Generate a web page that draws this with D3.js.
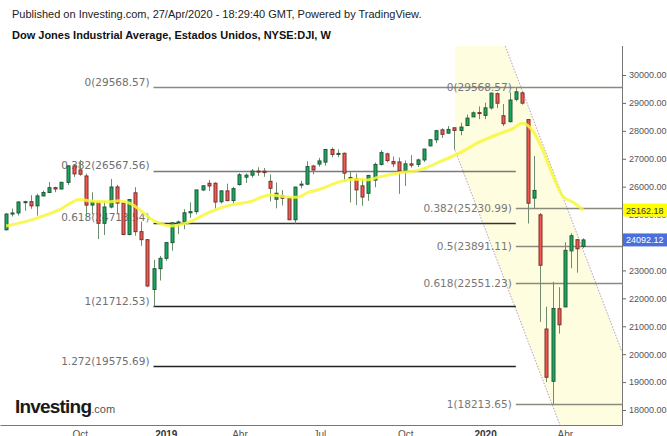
<!DOCTYPE html>
<html>
<head>
<meta charset="utf-8">
<script src="https://cdn.jsdelivr.net/npm/d3@7"></script>
<style>
  body { margin: 0; background: #fff; }
  svg { display: block; font-family: 'Liberation Sans', Arial, sans-serif; }
</style>
</head>
<body>
<div id="chart"></div>
<script>
/* global d3 */
const WIDTH = 667
const HEIGHT = 436

// weekly candles, index 0 = week of Jul 9 2018 ... index 94 = week of Apr 27 2020
const opens = [
  24456, 25019, 25058, 25451, 25463, 25313, 25669, 25790, 25965, 25917,
  26155, 26744, 26600, 26383, 25340, 25444, 24688, 25271, 25989, 25413,
  24286, 25779, 24389, 24100, 22317, 23062, 23433, 23996, 24706, 24737,
  25064, 25106, 25883, 26122, 26122, 25460, 25849, 25502, 26076, 26340,
  26412, 26559, 26555, 26190, 25550, 25680, 25586, 24815, 26060, 26090,
  26740, 26810, 26880, 27332, 27154, 27196, 26330, 26287, 26030, 25762,
  26235, 26797, 27175, 26903, 26886, 26573, 26817, 26798, 26958, 27462,
  27681, 28036, 27917, 28109, 28015, 28190, 28500, 28654, 28553, 28822,
  29330, 28540, 28330, 29130, 29360, 28403, 25591, 24992, 20900, 19028,
  21628, 21693, 23700, 24100, 23860
]
const highs = [
  25052, 25215, 25474, 25494, 25692, 25746, 25866, 26167, 26000, 26171,
  26770, 26769, 26951, 26468, 25800, 25456, 25481, 26277, 26066, 25413,
  25538, 25980, 24749, 24124, 23381, 23518, 24002, 24706, 24788, 25193,
  25439, 25883, 26052, 26241, 26155, 25872, 26109, 25995, 26486, 26471,
  26633, 26695, 26668, 26438, 26152, 25877, 25600, 26000, 26209, 26908,
  26782, 27032, 27333, 27398, 27331, 27221, 26547, 26466, 26282, 26423,
  26860, 27306, 27217, 27079, 27047, 26940, 27131, 27006, 27348, 27700,
  28036, 28090, 28175, 28120, 28290, 28582, 28701, 28872, 29009, 29373,
  29373, 28960, 29380, 29568.57, 29408, 28420, 27102, 25057, 21700, 22595,
  22400, 24008, 24330, 24119, 24150
]
const lows = [
  24432, 24930, 24966, 25139, 25206, 24965, 25650, 25790, 25803, 25899,
  26062, 26350, 26394, 24899, 25009, 24122, 24268, 25223, 25030, 24268,
  24260, 24243, 23881, 22397, 21712.53, 22638, 23346, 23706, 24302, 24477,
  24883, 25008, 25842, 25847, 25208, 25397, 25476, 25372, 26040, 26133,
  26323, 26378, 26353, 25471, 25222, 25328, 24800, 24680, 25941, 26055,
  26444, 26717, 26755, 27047, 27050, 26203, 25433, 25339, 25313, 25494,
  25978, 26754, 26872, 26698, 25743, 26026, 26685, 26703, 26883, 27446,
  27558, 27744, 27900, 27325, 27839, 28173, 28491, 28418, 28419, 28763,
  28811, 28169, 28300, 29056, 28939, 24681, 25226, 21154, 19000, 18213.65,
  20736, 21693, 23076, 22919, 23800
]
const closes = [
  25019, 25058, 25451, 25463, 25313, 25669, 25790, 25965, 25917, 26155,
  26744, 26458, 26447, 25340, 25444, 24688, 25271, 25989, 25413, 24286,
  25538, 24389, 24101, 22445, 23062, 23433, 23996, 24706, 24737, 25064,
  25106, 25883, 26031, 26026, 25450, 25849, 25502, 25929, 26425, 26412,
  26559, 26543, 26505, 25942, 25764, 25586, 24815, 25984, 26090, 26720,
  26600, 26922, 27332, 27154, 27192, 26485, 26287, 25886, 25629, 26403,
  26797, 27220, 26935, 26820, 26573, 26817, 26770, 26958, 27347, 27681,
  28005, 27876, 28051, 28015, 28135, 28455, 28645, 28634, 28823, 29348,
  28990, 28256, 29103, 29398, 28992, 25409, 25865, 23186, 19174, 21637,
  21053, 23719, 24242, 23775, 24092.12
]

// yellow moving average (week index, value)
const maWeeks = [0, 4.4, 8.8, 12, 13.7, 16.7, 18.3, 20.2, 21.8, 23.4, 25, 26.7, 30, 33.2, 36.5, 39.7, 43, 45.2, 47.3, 49.5,
  51, 54.4, 56.6, 58.7, 60.9, 64.2, 67.4, 70.7, 73.8, 77.2, 80.5, 82.6, 84, 85.8, 87.5, 89.1, 90.7, 92.4, 94]
const maValues = [24590, 24830, 25190, 25540, 25490, 25460, 25500, 25400, 25165, 24870, 24690, 24590, 24745, 25100, 25340, 25460, 25700, 25650, 25620, 25820,
  25900, 26180, 26265, 26240, 26360, 26500, 26600, 26900, 27200, 27610, 27910, 28090, 28270, 27990, 27255, 26360, 25644, 25430, 25162.18]

// fibonacci retracements
const fibLeftRatios = ['0', '0.382', '0.618', '1', '1.272']
const fibLeftValues = [29568.57, 26567.56, 24713.54, 21712.53, 19575.69]
const fibLeftWeeks = [24, 83]
const fibRightRatios = ['0', '0.382', '0.5', '0.618', '1']
const fibRightValues = [29568.57, 25230.99, 23891.11, 22551.23, 18213.65]
const fibRightStart = 83

// parallel channel (week index, price)
const channelStart = [73.1, 27314]
const channelEnd = [89.7, 17751]
const channelUpper = [83.4, 29821]

const priceTicks = [18000, 19000, 20000, 21000, 22000, 23000, 24000, 25000, 26000, 27000, 28000, 29000, 30000]
const monthWeeks = [12, 26, 38, 51, 65, 78, 91]
const monthLabels = ['Oct', '2019', 'Abr', 'Jul', 'Oct', '2020', 'Abr']

const maLast = 25162.18
const priceLast = 24092.12

const PLOT = { left: 0, right: 622, top: 46, bottom: 425 }

const svg = d3.select('#chart')
  .append('svg')
  .attr('width', WIDTH)
  .attr('height', HEIGHT)

const x = d3.scaleLinear().domain([-1, 100.3]).range([PLOT.left, PLOT.right])
const y = d3.scaleLinear().domain([18000, 30000]).range([410, 75])

svg.append('clipPath').attr('id', 'plot-clip')
  .append('rect')
  .attr('x', PLOT.left).attr('y', PLOT.top)
  .attr('width', PLOT.right - PLOT.left).attr('height', PLOT.bottom - PLOT.top)

const plot = svg.append('g').attr('clip-path', 'url(#plot-clip)')

// channel
const chSlope = (channelEnd[1] - channelStart[1]) / (channelEnd[0] - channelStart[0])
const lowerAt = (i) => channelStart[1] + chSlope * (i - channelStart[0])
const chOffset = channelUpper[1] - lowerAt(channelUpper[0])
const xEnd = x.domain()[1]
const channelPoly = [
  [channelStart[0], lowerAt(channelStart[0])],
  [channelStart[0], lowerAt(channelStart[0]) + chOffset],
  [xEnd, lowerAt(xEnd) + chOffset],
  [xEnd, lowerAt(xEnd)]
]
plot.append('path')
  .attr('d', 'M' + channelPoly.map((p) => [x(p[0]), y(p[1])].join(',')).join('L') + 'Z')
  .style('fill', '#fffde0')

plot.selectAll('line.channel')
  .data([0, chOffset])
  .join('line')
  .attr('class', 'channel')
  .attr('x1', x(channelStart[0]))
  .attr('y1', (d) => y(lowerAt(channelStart[0]) + d))
  .attr('x2', x(xEnd))
  .attr('y2', (d) => y(lowerAt(xEnd) + d))
  .style('stroke', '#b89ac4')
  .style('stroke-width', 1)
  .style('stroke-dasharray', '1.5,1.5')

// fib lines
const fibLeftColors = ['#8a8a8a', '#7a7a7a', '#333', '#222', '#222']
plot.selectAll('line.fibL')
  .data(fibLeftValues)
  .join('line')
  .attr('class', 'fibL')
  .attr('x1', x(fibLeftWeeks[0]))
  .attr('x2', x(fibLeftWeeks[1]))
  .attr('y1', (d) => Math.round(y(d)) + 0.5)
  .attr('y2', (d) => Math.round(y(d)) + 0.5)
  .style('stroke', (d, k) => fibLeftColors[k])
  .style('stroke-width', 1.3)

plot.selectAll('line.fibR')
  .data(fibRightValues)
  .join('line')
  .attr('class', 'fibR')
  .attr('x1', x(fibRightStart))
  .attr('x2', x(xEnd))
  .attr('y1', (d) => Math.round(y(d)) + 0.5)
  .attr('y2', (d) => Math.round(y(d)) + 0.5)
  .style('stroke', '#8a8a7c')
  .style('stroke-width', 1.3)

const fibFont = "'DejaVu Sans', Verdana, sans-serif"
plot.selectAll('text.fibL')
  .data(fibLeftValues)
  .join('text')
  .attr('class', 'fibL')
  .attr('x', x(fibLeftWeeks[0]) - 4)
  .attr('y', (d) => y(d) - 1.5)
  .attr('text-anchor', 'end')
  .style('font-family', fibFont)
  .style('font-size', '10.5px')
  .style('fill', '#707070')
  .text((d, k) => fibLeftRatios[k] + '(' + d.toFixed(2) + ')')

plot.selectAll('text.fibR')
  .data(fibRightValues)
  .join('text')
  .attr('class', 'fibR')
  .attr('x', x(fibRightStart) - 4)
  .attr('y', (d) => y(d) + 4)
  .attr('text-anchor', 'end')
  .style('font-family', fibFont)
  .style('font-size', '10.5px')
  .style('fill', '#777')
  .text((d, k) => fibRightRatios[k] + '(' + d.toFixed(2) + ')')

// candles
const candles = closes.map((c, i) => ({ i, o: opens[i], h: highs[i], l: lows[i], c }))

plot.selectAll('line.wick')
  .data(candles)
  .join('line')
  .attr('class', 'wick')
  .attr('x1', (d) => Math.round(x(d.i)) + 0.5)
  .attr('x2', (d) => Math.round(x(d.i)) + 0.5)
  .attr('y1', (d) => y(d.h))
  .attr('y2', (d) => y(d.l))
  .style('stroke', '#6f8c70')
  .style('stroke-width', 1)

plot.selectAll('rect.body')
  .data(candles)
  .join('rect')
  .attr('class', 'body')
  .attr('x', (d) => Math.round(x(d.i)) - 1)
  .attr('width', 3)
  .attr('y', (d) => y(Math.max(d.o, d.c)))
  .attr('height', (d) => Math.max(1, Math.abs(y(d.o) - y(d.c))))
  .style('fill', (d) => d.c >= d.o ? '#1aa85c' : '#f25a4f')
  .style('stroke', (d) => d.c >= d.o ? '#1d5a38' : '#7c2f2a')
  .style('stroke-width', 1)

// moving average
plot.append('path')
  .datum(maWeeks.map((w, k) => [w, maValues[k]]))
  .attr('d', d3.line().x((d) => x(d[0])).y((d) => y(d[1])).curve(d3.curveMonotoneX))
  .style('fill', 'none')
  .style('stroke', '#f7f73a')
  .style('stroke-width', 3)
  .style('opacity', 0.85)

// price axis
const yAxis = svg.append('g')
  .attr('transform', 'translate(' + PLOT.right + ',0)')
  .call(d3.axisRight(y).tickValues(priceTicks).tickFormat(d3.format('.2f')).tickSize(4).tickPadding(3))
yAxis.select('.domain').remove()
yAxis.selectAll('line').style('stroke', '#666')
yAxis.selectAll('text').style('font-size', '9px').style('fill', '#555').style('font-family', "'Liberation Sans', Arial, sans-serif")

svg.append('line')
  .attr('x1', PLOT.right + 0.5).attr('x2', PLOT.right + 0.5)
  .attr('y1', PLOT.top).attr('y2', PLOT.bottom)
  .style('stroke', '#777')

// last value labels
const tags = [
  { v: maLast, bg: '#ffff00', fg: '#333' },
  { v: priceLast, bg: '#4a6fdc', fg: '#fff' }
]
const tag = svg.selectAll('g.tag')
  .data(tags)
  .join('g')
  .attr('class', 'tag')
  .attr('transform', (d) => 'translate(' + PLOT.right + ',' + y(d.v) + ')')
tag.append('rect')
  .attr('x', 1).attr('y', -6.5).attr('width', WIDTH - PLOT.right).attr('height', 13)
  .style('fill', (d) => d.bg)
tag.append('text')
  .attr('x', 4).attr('y', 3.5)
  .style('font-size', '9px')
  .style('fill', (d) => d.fg)
  .text((d) => d.v.toFixed(2))

// time axis
const xAxis = svg.append('g')
  .attr('transform', 'translate(0,' + PLOT.bottom + ')')
  .call(d3.axisBottom(x).tickValues(monthWeeks).tickFormat((d, k) => monthLabels[k]).tickSize(0).tickPadding(6))
xAxis.select('.domain').style('stroke', '#777')
xAxis.selectAll('text')
  .style('font-size', '10px')
  .style('fill', (d, k) => /^\d/.test(monthLabels[k]) ? '#333' : '#555')
  .style('font-weight', (d, k) => /^\d/.test(monthLabels[k]) ? 'bold' : 'normal')

// header
svg.append('text')
  .attr('x', 12).attr('y', 18)
  .style('font-size', '11px')
  .style('fill', '#222')
  .text('Published on Investing.com, 27/Apr/2020 - 18:29:40 GMT, Powered by TradingView.')
svg.append('text')
  .attr('x', 12).attr('y', 39)
  .style('font-size', '11px')
  .style('font-weight', 'bold')
  .style('fill', '#111')
  .text('Dow Jones Industrial Average, Estados Unidos, NYSE:DJI, W')

// logo
const logo = svg.append('text').attr('x', 15).attr('y', 413)
logo.append('tspan')
  .style('font-size', '19px')
  .style('font-weight', 'bold')
  .style('letter-spacing', '-0.8px')
  .style('fill', '#1a1a1a')
  .text('Investing')
logo.append('tspan')
  .style('font-size', '11px')
  .style('fill', '#555')
  .text('.com')
</script>
</body>
</html>
